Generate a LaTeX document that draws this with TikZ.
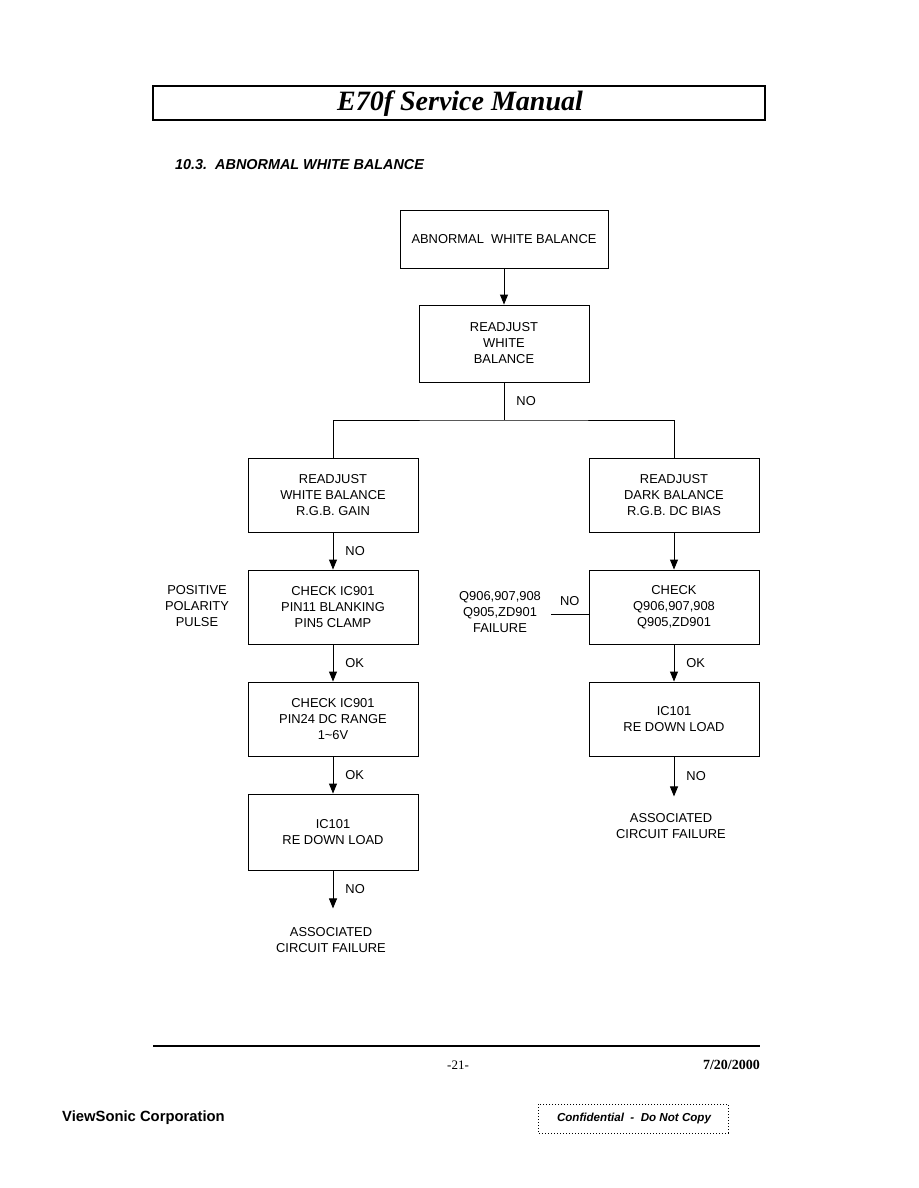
\documentclass[tikz,border=0pt]{standalone}
\usepackage{fontspec}
\setmainfont{Liberation Serif}
\setsansfont{Liberation Sans}
\usetikzlibrary{arrows.meta,positioning}
\tikzset{
  flowbox/.style={
    draw,
    line width=0.9pt,
    minimum width=170pt,
    minimum height=74pt,
    align=center,
    inner sep=0pt,
    font=\sffamily\fontsize{12.9}{16}\selectfont
  },
  note/.style={
    align=center,
    inner sep=0pt,
    font=\sffamily\fontsize{12.9}{16}\selectfont
  },
  flow/.style={
    line width=0.9pt,
    -{Triangle[width=8pt,length=10pt]}
  },
  wire/.style={
    line width=0.9pt
  },
}
\begin{document}
\begin{tikzpicture}[x=1pt,y=-1pt]
\useasboundingbox[fill=white] (0,0) rectangle (918,1188);
% page header
\draw[line width=1.8pt] (153,86) rectangle (765,120);
\node[font=\bfseries\itshape\fontsize{28}{30}\selectfont] (title) at (460,104) {E70f Service Manual};
\node[anchor=west, inner sep=0pt, font=\sffamily\bfseries\itshape\fontsize{14.4}{16}\selectfont] (section) at (175,165) {10.3.\ \ ABNORMAL WHITE BALANCE};
% top of the chart
\node[flowbox, minimum width=208pt, minimum height=58pt] (start) at (504,239) {ABNORMAL\ \ WHITE BALANCE};
\node[flowbox, minimum height=77pt] (wb) at (504,343.5) {READJUST\\WHITE\\BALANCE};
\coordinate (split) at (504,420);
% left branch
\node[flowbox] (gain) at (333,495) {READJUST\\WHITE BALANCE\\R.G.B. GAIN};
\node[flowbox] (blank) at (333,607) {CHECK IC901\\PIN11 BLANKING\\PIN5 CLAMP};
\node[flowbox] (range) at (333,719) {CHECK IC901\\PIN24 DC RANGE\\1\textasciitilde6V};
\node[flowbox, minimum height=76pt] (reload) at (333,832) {IC101\\RE DOWN LOAD};
\node[note] (pulse) at (197,606) {POSITIVE\\POLARITY\\PULSE};
\node[note] (failL) at (331,940) {ASSOCIATED\\CIRCUIT FAILURE};
% right branch
\node[flowbox] (bias) at (674,495) {READJUST\\DARK BALANCE\\R.G.B. DC BIAS};
\node[flowbox] (trans) at (674,607) {CHECK\\Q906,907,908\\Q905,ZD901};
\node[flowbox] (reloadR) at (674,719) {IC101\\RE DOWN LOAD};
\node[note] (failR) at (671,826) {ASSOCIATED\\CIRCUIT FAILURE};
\node[note] (failQ) at (500,612) {Q906,907,908\\Q905,ZD901\\FAILURE};
\coordinate (qend) at (551,614);
% connectors
\draw[flow] (start) -- (wb);
\draw[wire] (wb) -- node[note, right=12pt] {NO} (split);
\draw[wire] (gain.north) |- (split) -| (bias.north);
\draw[flow] (gain) -- node[note, right=12pt] {NO} (blank);
\draw[flow] (blank) -- node[note, right=12pt] {OK} (range);
\draw[flow] (range) -- node[note, right=12pt] {OK} (reload);
\draw[flow] (reload.south) -- node[note, right=12pt] {NO} ++(0,38);
\draw[flow] (bias) -- (trans);
\draw[flow] (trans) -- node[note, right=12pt] {OK} (reloadR);
\draw[flow] (reloadR.south) -- node[note, right=12pt] {NO} ++(0,40);
\draw[wire] (trans.west |- qend) -- node[note, above=8pt] {NO} (qend);
% page footer
\draw[line width=2pt] (153,1046) -- (760,1046);
\node[font=\fontsize{13}{14}\selectfont] (page) at (458,1065) {-21-};
\node[anchor=east, inner sep=0pt, font=\bfseries\fontsize{14}{15}\selectfont] (date) at (760,1065) {7/20/2000};
\node[anchor=west, inner sep=0pt, font=\sffamily\bfseries\fontsize{14.8}{16}\selectfont] (company) at (62,1118) {ViewSonic Corporation};
\draw[line width=1pt, dotted] (538,1104) rectangle (728,1133);
\node[font=\sffamily\bfseries\itshape\fontsize{11.6}{13}\selectfont] (conf) at (634,1118) {Confidential\ \ -\ \ Do Not Copy};
\end{tikzpicture}
\end{document}
